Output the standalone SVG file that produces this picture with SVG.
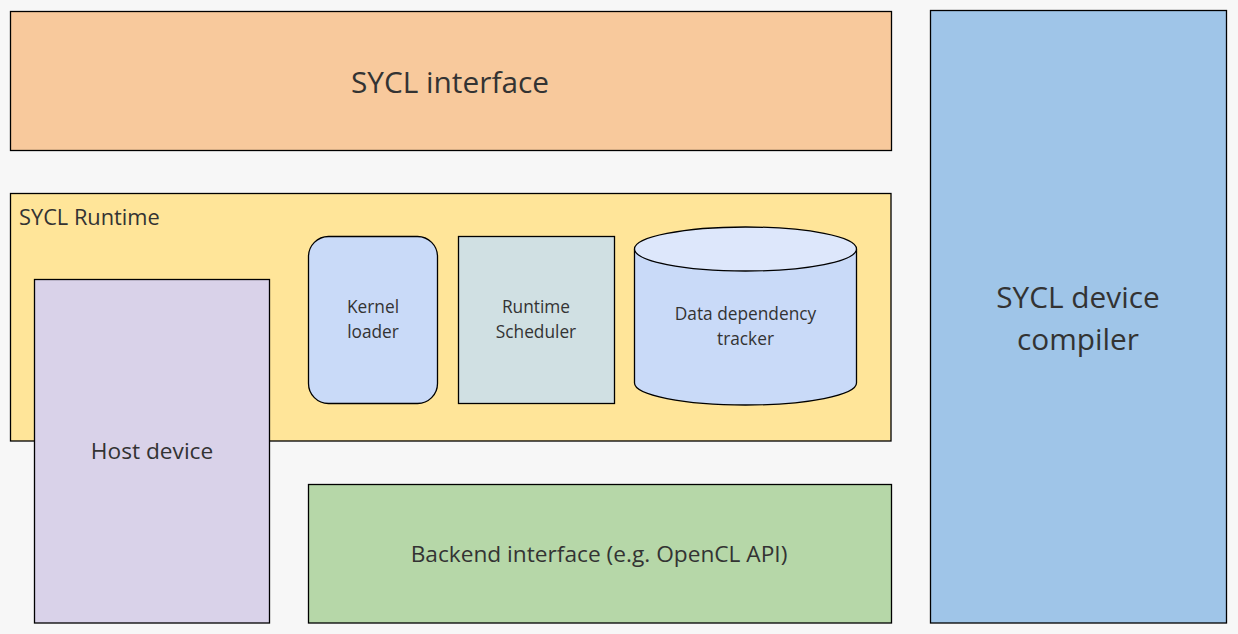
<svg xmlns="http://www.w3.org/2000/svg" width="1238" height="634" viewBox="0 0 1238 634">
<style>
.b{stroke:#000;stroke-width:1.3}
text{font-family:"Open Sans","Noto Sans","DejaVu Sans",sans-serif;fill:#333;text-anchor:middle;dominant-baseline:central}
.l{font-size:29.8px}.m{font-size:22.7px}.s{font-size:17.3px}
</style>
<rect x="0" y="0" width="1238" height="634" fill="#f7f7f7"/>
<g id="sycl-interface"><rect class="b" x="10.5" y="11.5" width="881" height="139" fill="#f8c99c"/><text class="l" x="450" y="81">SYCL interface</text></g>
<g id="sycl-runtime"><rect class="b" x="10.5" y="193.5" width="880.5" height="247.5" fill="#ffe599"/><text x="19" y="216" style="text-anchor:start;font-size:21.8px">SYCL Runtime</text></g>
<g id="host-device"><rect class="b" x="34.5" y="279.5" width="235" height="343.5" fill="#d9d2e9"/><text class="m" x="152" y="450">Host device</text></g>
<g id="kernel-loader"><rect class="b" x="308.5" y="236.5" width="129" height="167" rx="20" fill="#c9daf8"/><text class="s" x="373" y="306">Kernel</text><text class="s" x="373" y="331">loader</text></g>
<g id="runtime-scheduler"><rect class="b" x="458.5" y="236.5" width="156" height="167" fill="#d0e0e3"/><text class="s" x="536" y="306">Runtime</text><text class="s" x="536" y="331">Scheduler</text></g>
<g id="data-dependency-tracker"><path class="b" d="M634.5 249 L634.5 383 A111 22 0 0 0 856.5 383 L856.5 249" fill="#c9daf8"/><ellipse class="b" cx="745.5" cy="249" rx="111" ry="22" fill="#dde7fb"/><text class="s" x="745.5" y="313">Data dependency</text><text class="s" x="745.5" y="338">tracker</text></g>
<g id="backend-interface"><rect class="b" x="308.5" y="484.5" width="583" height="138.5" fill="#b6d7a8"/><text class="m" x="599" y="553">Backend interface (e.g. OpenCL API)</text></g>
<g id="sycl-device-compiler"><rect class="b" x="930.5" y="10.5" width="296" height="612.5" fill="#9fc5e8"/><text class="l" x="1078" y="296">SYCL device</text><text class="l" x="1078" y="338">compiler</text></g>
<g id="connectors"/>
</svg>
